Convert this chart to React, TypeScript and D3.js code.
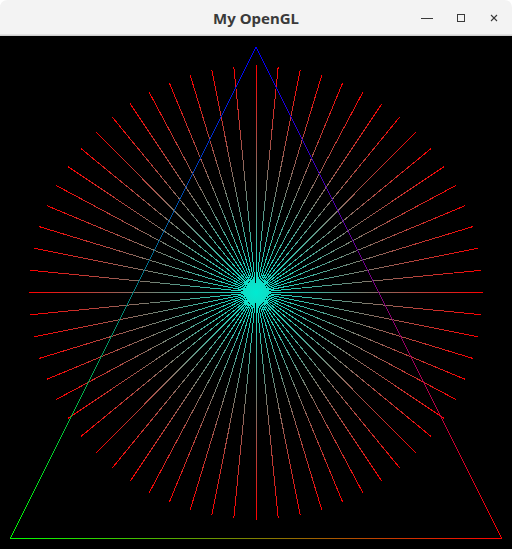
import React from 'react';
import * as d3 from 'd3';

// window geometry
const W = 512;
const H = 549;
const BAR = 36;

const title = 'My OpenGL';

// triangle vertices in GL coords and their colours
const triX = [0, -0.96, 0.96];
const triY = [0.957, -0.96, -0.96];
const triColor = ['#0000ff', '#00ff00', '#ff0000'];

// spokes
const spokeCount = 64;
const spokeRadius = 0.885;
const innerColor = 'rgb(0,235,210)';
const outerColor = '#ff0000';

const x = d3.scaleLinear().domain([-1, 1]).range([0, W]);
const y = d3.scaleLinear().domain([1, -1]).range([BAR, H]);

const App: React.FC = () => {
  const angles = d3.range(spokeCount).map(i => (i * 2 * Math.PI) / spokeCount);
  const cx = x(0);
  const cy = y(0);

  const edges = [0, 1, 2].map(i => {
    const j = (i + 1) % 3;
    return {
      x1: x(triX[i]), y1: y(triY[i]), x2: x(triX[j]), y2: y(triY[j]),
      c1: triColor[i], c2: triColor[j],
    };
  });

  return (
    <div style={{ position: 'fixed', left: 0, top: 0 }}>
      <svg width={W} height={H} style={{ display: 'block' }}>
        <defs>
          {angles.map((a, i) => (
            <linearGradient key={i} id={`sp${i}`} gradientUnits="userSpaceOnUse"
              x1={cx} y1={cy}
              x2={x(spokeRadius * Math.cos(a))} y2={y(spokeRadius * Math.sin(a))}>
              <stop offset="0" stopColor={innerColor} />
              <stop offset="1" stopColor={outerColor} />
            </linearGradient>
          ))}
          {edges.map((e, i) => (
            <linearGradient key={i} id={`ed${i}`} gradientUnits="userSpaceOnUse"
              x1={e.x1} y1={e.y1} x2={e.x2} y2={e.y2}>
              <stop offset="0" stopColor={e.c1} />
              <stop offset="1" stopColor={e.c2} />
            </linearGradient>
          ))}
          <clipPath id="win">
            <path d={`M0,${H} V8 Q0,0 8,0 H${W - 8} Q${W},0 ${W},8 V${H} Z`} />
          </clipPath>
        </defs>
        <g clipPath="url(#win)">
          {/* title bar */}
          <rect x={0} y={0} width={W} height={BAR} fill="#f3f3f3" />
          <rect x={0} y={BAR - 1.5} width={W} height={1.5} fill="#cfcfcf" />
          <text x={W / 2} y={24} textAnchor="middle" fontFamily="'Noto Sans', sans-serif"
            fontWeight="bold" fontSize={15} fill="#3a3a3a">{title}</text>
          <g stroke="#3a3a3a" strokeWidth={1} fill="none" shapeRendering="crispEdges">
            <line x1={421} y1={18.5} x2={433} y2={18.5} />
            <rect x={457.5} y={14.5} width={7} height={7} />
          </g>
          <g stroke="#3a3a3a" strokeWidth={1.1} fill="none">
            <line x1={491} y1={15} x2={497} y2={21} />
            <line x1={497} y1={15} x2={491} y2={21} />
          </g>
          {/* canvas */}
          <rect x={0} y={BAR} width={W} height={H - BAR} fill="#000" />
          <g shapeRendering="crispEdges" strokeWidth={1}>
            {angles.map((a, i) => (
              <line key={i} x1={cx} y1={cy}
                x2={x(spokeRadius * Math.cos(a))} y2={y(spokeRadius * Math.sin(a))}
                stroke={`url(#sp${i})`} />
            ))}
            {edges.map((e, i) => (
              <line key={i} x1={e.x1} y1={e.y1} x2={e.x2} y2={e.y2} stroke={`url(#ed${i})`} />
            ))}
          </g>
        </g>
      </svg>
    </div>
  );
};

export default App;
